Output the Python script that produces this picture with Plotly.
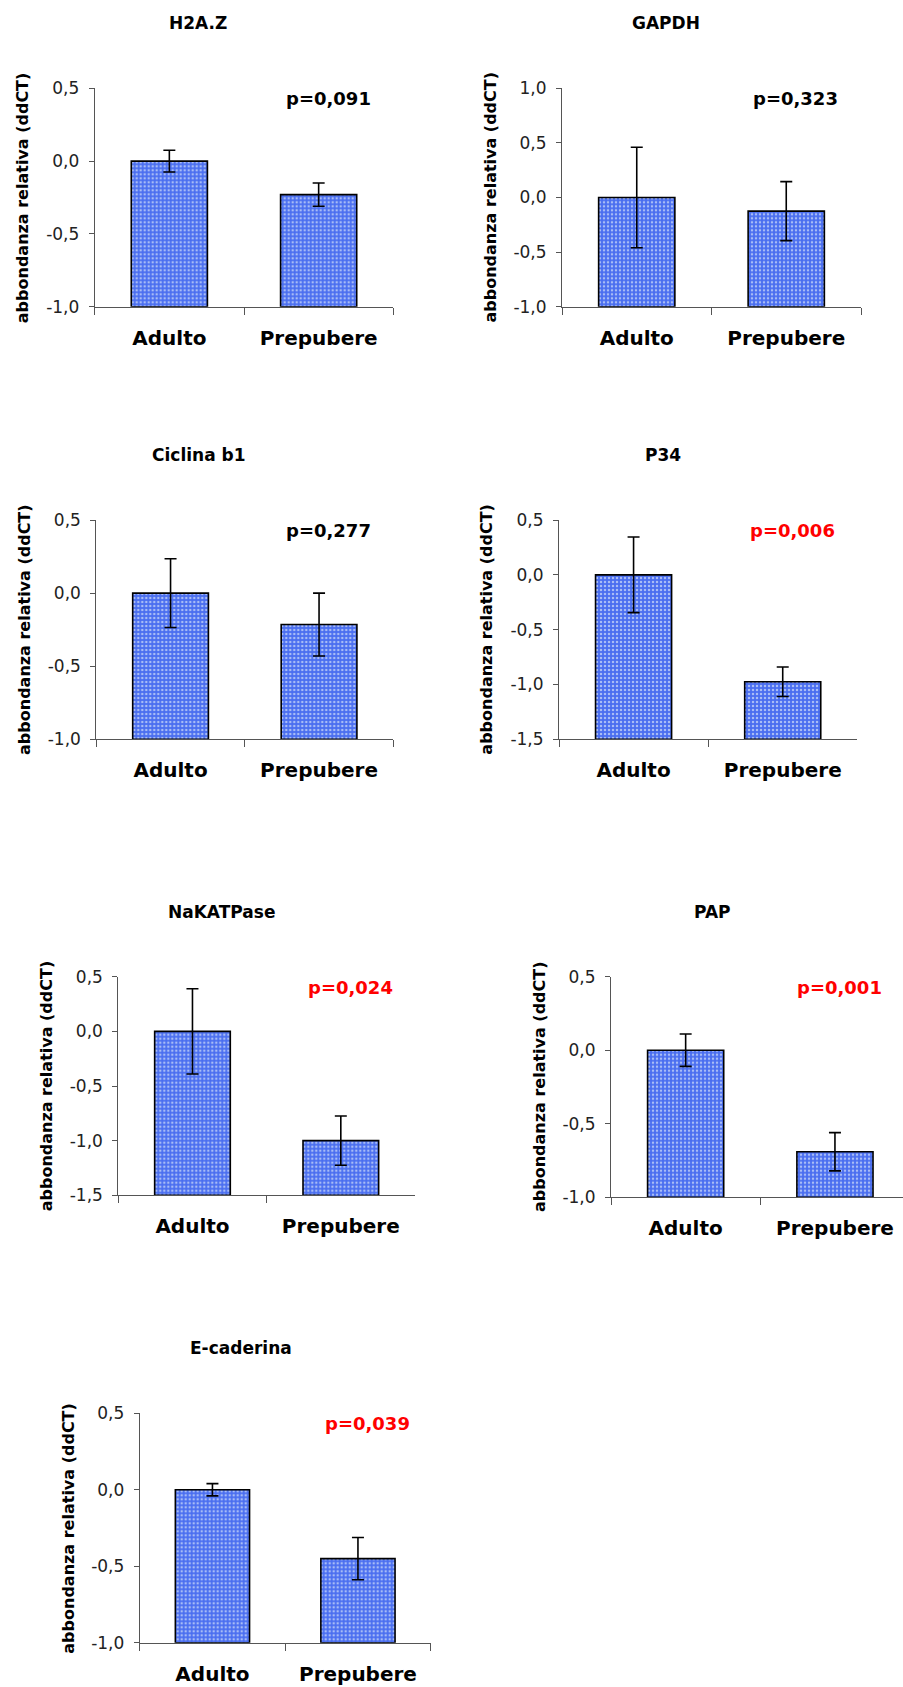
import plotly.graph_objects as go

# ---------------- data ----------------
genes = ["H2A.Z", "GAPDH", "Ciclina b1", "P34", "NaKATPase", "PAP", "E-caderina"]
categories = ["Adulto", "Prepubere"]
adulto_mean = [0.0, 0.0, 0.0, 0.0, 0.0, 0.0, 0.0]
prepubere_mean = [-0.23, -0.125, -0.215, -0.975, -1.0, -0.69, -0.45]
adulto_err = [0.075, 0.46, 0.235, 0.345, 0.39, 0.11, 0.04]
prepubere_err = [0.08, 0.27, 0.215, 0.135, 0.225, 0.13, 0.138]
p_labels = ["p=0,091", "p=0,323", "p=0,277", "p=0,006", "p=0,024", "p=0,001", "p=0,039"]
significant = [False, False, False, True, True, True, True]
y_min = [-1.0, -1.0, -1.0, -1.5, -1.5, -1.0, -1.0]
y_max = [0.5, 1.0, 0.5, 0.5, 0.5, 0.5, 0.5]
y_title = "abbondanza relativa (ddCT)"

# ---------------- layout (pixel boxes of each plot area) ----------------
W, H = 903, 1687
boxes = [  # x0, x1, y_top, y_bottom in pixels
    (94.7, 393.3, 88.3, 306.7),
    (562.0, 861.0, 88.3, 306.7),
    (96.3, 393.3, 520.0, 739.3),
    (559.0, 857.3, 520.0, 739.3),
    (118.3, 415.0, 976.7, 1195.3),
    (611.0, 909.6, 976.7, 1197.3),
    (139.7, 430.7, 1413.3, 1642.7),
]

FONT = "DejaVu Sans"
BAR_BLUE = "#4a6ef0"
DOT = "#a9bdf6"
AXIS_COL = "#555555"

fig = go.Figure()
layout = dict(
    template="none",
    width=W, height=H, margin=dict(l=0, r=0, t=0, b=0, pad=0, autoexpand=False),
    paper_bgcolor="white", plot_bgcolor="white", showlegend=False,
    font=dict(family=FONT, color="#111111"),
    bargap=0.49,
)
annotations = []

for i, g in enumerate(genes):
    n = i + 1
    xa = "x" if n == 1 else f"x{n}"
    ya = "y" if n == 1 else f"y{n}"
    means = [adulto_mean[i], prepubere_mean[i]]
    errs = [adulto_err[i], prepubere_err[i]]
    base = y_min[i]

    fig.add_trace(go.Bar(
        x=categories, y=[m - base for m in means], base=[base, base],
        xaxis=xa, yaxis=ya, width=0.51,
        marker=dict(color=BAR_BLUE,
                    line=dict(color="black", width=1.6),
                    pattern=dict(shape=".", bgcolor=BAR_BLUE, fgcolor=DOT,
                                 size=4, solidity=0.3)),
        hoverinfo="skip",
    ))
    fig.add_trace(go.Scatter(
        x=categories, y=means, xaxis=xa, yaxis=ya, mode="markers",
        marker=dict(size=1, color="rgba(0,0,0,0)"),
        error_y=dict(type="data", array=errs, visible=True,
                     color="black", thickness=1.6, width=6),
        hoverinfo="skip",
    ))

    x0, x1, yt, yb = boxes[i]
    xr_hi = 1.5
    if x1 > W:
        # axis extends past the right edge of the picture: clip it
        xr_hi = 1.5 - (x1 - W) / ((x1 - x0) / 2.0)
        x1 = W
    xkey = "xaxis" if n == 1 else f"xaxis{n}"
    ykey = "yaxis" if n == 1 else f"yaxis{n}"
    tickvals = []
    v = y_min[i]
    while v <= y_max[i] + 1e-9:
        tickvals.append(round(v, 2))
        v += 0.5
    ticktext = [f"{t:.1f}".replace(".", ",") for t in tickvals]

    layout[xkey] = dict(
        domain=[x0 / W, x1 / W], anchor=ya, type="category", automargin=False,
        range=[-0.5, xr_hi], showline=True, linecolor=AXIS_COL, linewidth=1,
        ticks="outside", tickson="boundaries", ticklen=7, tickcolor=AXIS_COL,
        tickwidth=1, showgrid=False, zeroline=False, fixedrange=True,
        tickfont=dict(family=FONT, size=20, color="black", weight="bold"),
        ticklabelstandoff=13,
    )
    layout[ykey] = dict(
        domain=[1 - yb / H, 1 - yt / H], anchor=xa, automargin=False,
        range=[y_min[i], y_max[i]], showline=True, linecolor=AXIS_COL, linewidth=1,
        ticks="outside", ticklen=5, tickcolor=AXIS_COL, tickwidth=1,
        tickvals=tickvals, ticktext=ticktext,
        showgrid=False, zeroline=False, fixedrange=True,
        tickfont=dict(family=FONT, size=17, color="#222222"),
        ticklabelstandoff=6,
    )

    xd = f"{xa} domain"
    yd = f"{ya} domain"
    annotations.append(dict(
        text=f"<b>{g}</b>", xref=xd, yref=yd, x=0.347, y=1, yshift=65,
        xanchor="center", yanchor="middle", showarrow=False,
        font=dict(family=FONT, size=17, color="black"),
    ))
    annotations.append(dict(
        text=f"<b>{p_labels[i]}</b>", xref=xd, yref=yd, x=0.782, y=1, yshift=-10.5,
        xanchor="center", yanchor="middle", showarrow=False,
        font=dict(family=FONT, size=18,
                  color="#ff0000" if significant[i] else "black"),
    ))
    annotations.append(dict(
        text=f"<b>{y_title}</b>", xref=xd, yref=yd, x=0, y=0.5, xshift=-72,
        xanchor="center", yanchor="middle", textangle=-90, showarrow=False,
        font=dict(family=FONT, size=16, color="black"),
    ))

layout["annotations"] = annotations
fig.update_layout(**layout)
fig.write_html(
    "out.html",
    config={"displayModeBar": False, "responsive": False},
    post_script="document.body.style.margin='0px';document.body.style.overflow='hidden';",
)
